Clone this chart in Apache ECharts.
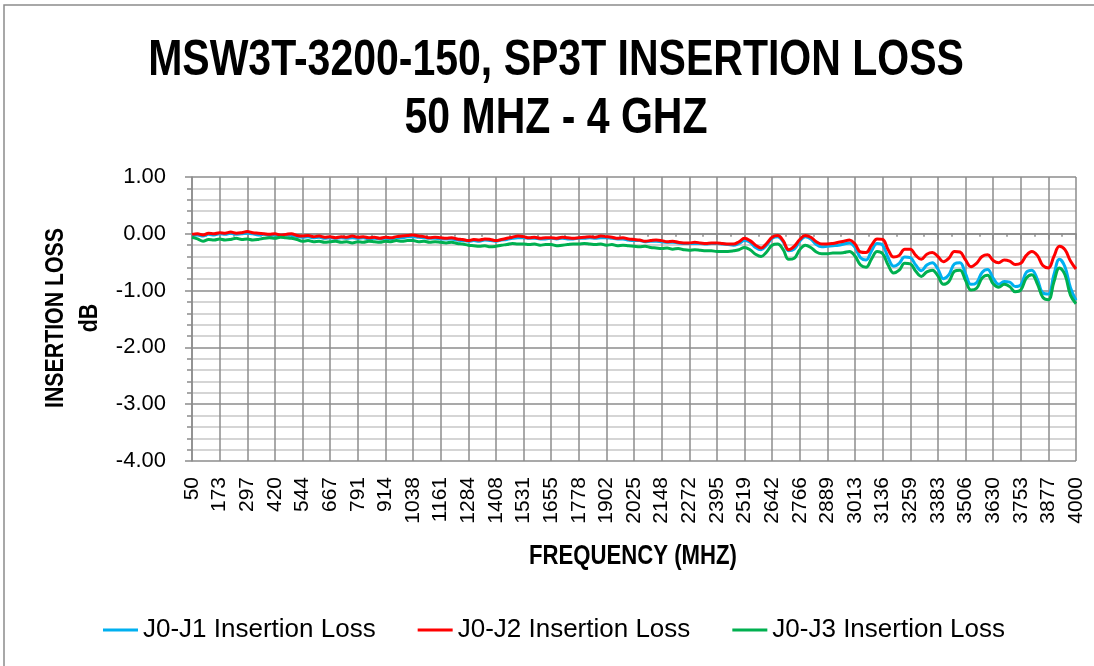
<!DOCTYPE html>
<html>
<head>
<meta charset="utf-8">
<title>MSW3T-3200-150 SP3T Insertion Loss</title>
<script src="https://cdn.jsdelivr.net/npm/echarts@6/dist/echarts.min.js"></script>
<style>
html, body { margin: 0; padding: 0; background: #fff; }
#chart { width: 1094px; height: 666px; }
</style>
</head>
<body>
<div id="chart"></div>
<script>
// 数据：50 MHz 起，每 24.6875 MHz 一个点（共 161 点）
var startMHz = 50;
var stepMHz = 24.6875;
var labelStepMHz = 123.4375;   // 刻度标签间隔 (50, 173, 297 ... 4000)

var seriesNames = ['J0-J1 Insertion Loss', 'J0-J2 Insertion Loss', 'J0-J3 Insertion Loss'];
var seriesColors = ['#00B0F0', '#FF0000', '#00B050'];

var j1Loss = [
    -0.03, -0.02, -0.04, -0.01, -0.02, 0.00, -0.01, 0.01, -0.01, 0.00,
    0.01, 0.00, -0.02, -0.01, -0.03, -0.02, -0.03, -0.02, -0.03, -0.05,
    -0.06, -0.05, -0.07, -0.06, -0.08, -0.07, -0.08, -0.07, -0.08, -0.07,
    -0.08, -0.07, -0.09, -0.08, -0.09, -0.08, -0.09, -0.07, -0.07, -0.05,
    -0.05, -0.06, -0.07, -0.08, -0.08, -0.09, -0.09, -0.09, -0.11, -0.12,
    -0.13, -0.12, -0.13, -0.11, -0.12, -0.13, -0.11, -0.10, -0.08, -0.07,
    -0.07, -0.08, -0.08, -0.09, -0.09, -0.08, -0.09, -0.08, -0.09, -0.09,
    -0.08, -0.08, -0.07, -0.08, -0.07, -0.07, -0.08, -0.09, -0.09, -0.11,
    -0.12, -0.12, -0.14, -0.13, -0.13, -0.14, -0.15, -0.15, -0.16, -0.17,
    -0.17, -0.17, -0.17, -0.18, -0.17, -0.17, -0.18, -0.19, -0.20, -0.17,
    -0.12, -0.15, -0.24, -0.28, -0.20, -0.08, -0.05, -0.14, -0.30, -0.27,
    -0.13, -0.05, -0.09, -0.19, -0.23, -0.22, -0.21, -0.20, -0.18, -0.16,
    -0.24, -0.42, -0.46, -0.30, -0.17, -0.20, -0.42, -0.57, -0.52, -0.41,
    -0.42, -0.55, -0.65, -0.55, -0.51, -0.62, -0.79, -0.72, -0.53, -0.51,
    -0.70, -0.89, -0.86, -0.68, -0.63, -0.78, -0.89, -0.84, -0.85, -0.93,
    -0.90, -0.68, -0.64, -0.80, -1.04, -1.06, -0.72, -0.45, -0.58, -0.95, -1.17
];

var j2Loss = [
    -0.01, 0.00, -0.02, 0.01, 0.00, 0.02, 0.01, 0.03, 0.01, 0.02,
    0.04, 0.02, 0.01, 0.00, -0.01, 0.00, -0.02, -0.01, 0.00, -0.03,
    -0.04, -0.03, -0.05, -0.04, -0.06, -0.05, -0.07, -0.05, -0.06, -0.04,
    -0.06, -0.05, -0.07, -0.06, -0.08, -0.06, -0.07, -0.05, -0.04, -0.03,
    -0.02, -0.04, -0.05, -0.07, -0.06, -0.07, -0.08, -0.07, -0.09, -0.10,
    -0.12, -0.10, -0.11, -0.09, -0.10, -0.12, -0.10, -0.08, -0.06, -0.04,
    -0.05, -0.07, -0.06, -0.08, -0.07, -0.07, -0.08, -0.06, -0.07, -0.08,
    -0.07, -0.06, -0.05, -0.06, -0.04, -0.05, -0.06, -0.08, -0.07, -0.09,
    -0.10, -0.11, -0.13, -0.12, -0.11, -0.12, -0.14, -0.13, -0.15, -0.16,
    -0.16, -0.15, -0.16, -0.17, -0.16, -0.16, -0.17, -0.18, -0.18, -0.14,
    -0.08, -0.12, -0.20, -0.25, -0.17, -0.06, -0.03, -0.12, -0.28, -0.22,
    -0.10, -0.03, -0.06, -0.14, -0.18, -0.18, -0.17, -0.15, -0.13, -0.11,
    -0.18, -0.32, -0.33, -0.20, -0.09, -0.10, -0.28, -0.41, -0.38, -0.27,
    -0.27, -0.38, -0.45, -0.36, -0.33, -0.40, -0.49, -0.43, -0.31, -0.32,
    -0.46, -0.58, -0.52, -0.40, -0.37, -0.47, -0.51, -0.46, -0.48, -0.54,
    -0.52, -0.38, -0.31, -0.38, -0.56, -0.60, -0.40, -0.22, -0.28, -0.48, -0.62
];

var j3Loss = [
    -0.06, -0.09, -0.13, -0.10, -0.11, -0.09, -0.11, -0.10, -0.08, -0.10,
    -0.09, -0.11, -0.10, -0.08, -0.07, -0.08, -0.06, -0.07, -0.08, -0.10,
    -0.13, -0.12, -0.14, -0.13, -0.15, -0.14, -0.13, -0.15, -0.14, -0.16,
    -0.14, -0.15, -0.13, -0.14, -0.15, -0.13, -0.14, -0.12, -0.13, -0.12,
    -0.12, -0.14, -0.13, -0.15, -0.14, -0.15, -0.16, -0.15, -0.17, -0.18,
    -0.20, -0.21, -0.22, -0.21, -0.23, -0.22, -0.20, -0.19, -0.17, -0.18,
    -0.18, -0.19, -0.18, -0.20, -0.19, -0.19, -0.21, -0.20, -0.19, -0.18,
    -0.18, -0.17, -0.18, -0.19, -0.18, -0.20, -0.19, -0.21, -0.20, -0.21,
    -0.22, -0.23, -0.22, -0.24, -0.25, -0.26, -0.25, -0.27, -0.26, -0.28,
    -0.29, -0.28, -0.29, -0.30, -0.30, -0.31, -0.31, -0.31, -0.30, -0.28,
    -0.24, -0.28, -0.36, -0.40, -0.32, -0.20, -0.18, -0.28, -0.45, -0.43,
    -0.28, -0.20, -0.24, -0.32, -0.35, -0.35, -0.34, -0.34, -0.33, -0.31,
    -0.39, -0.55, -0.59, -0.44, -0.31, -0.35, -0.55, -0.69, -0.64, -0.52,
    -0.53, -0.66, -0.75, -0.67, -0.64, -0.74, -0.89, -0.84, -0.66, -0.64,
    -0.82, -0.99, -0.96, -0.78, -0.73, -0.88, -0.94, -0.89, -0.93, -1.02,
    -0.99, -0.78, -0.72, -0.88, -1.12, -1.16, -0.85, -0.60, -0.72, -1.08, -1.23
];

// 横轴以 (频率 - 50) 为值，这样刻度从 0 开始，标签再加回 50
function toPairs(arr) {
    return arr.map(function (v, i) {
        return [i * stepMHz, v];
    });
}

var lossSets = [j1Loss, j2Loss, j3Loss];

// Calibri 风格：Liberation Sans 粗体横向压缩
function boldText(txt, x, y, size, rot) {
    return {
        type: 'text',
        x: x, y: y,
        rotation: rot || 0,
        scaleX: 0.82,
        style: {
            text: txt,
            align: 'center', verticalAlign: 'middle',
            font: 'bold ' + size + 'px "Liberation Sans"',
            fill: '#000'
        },
        silent: true
    };
}

var option = {
    animation: false,
    backgroundColor: '#fff',
    grid: {
        left: 192,
        right: 18,
        top: 177,
        bottom: 205
    },
    legend: {
        left: 98,
        top: 612,
        icon: 'rect',
        itemWidth: 35,
        itemHeight: 3,
        itemGap: 42,
        textStyle: {
            fontFamily: 'Liberation Sans',
            fontSize: 26,
            color: '#000'
        },
        data: seriesNames
    },
    xAxis: {
        type: 'value',
        min: 0,
        max: 3950,
        interval: labelStepMHz,
        axisLine: { lineStyle: { color: '#8c8c8c', width: 1.5 } },
        axisTick: { show: true, length: 6, lineStyle: { color: '#8c8c8c', width: 1.5 } },
        minorTick: { show: true, splitNumber: 2, length: 3, lineStyle: { color: '#8c8c8c', width: 1.5 } },
        axisLabel: {
            rotate: 90,
            margin: 16,
            showMaxLabel: true,
            fontFamily: 'Liberation Sans',
            fontSize: 21,
            color: '#000',
            formatter: function (v) { return String(Math.round(v + startMHz)); }
        },
        splitLine: { show: true, lineStyle: { color: '#8c8c8c', width: 1.5 } }
    },
    yAxis: {
        type: 'value',
        min: -4,
        max: 1,
        interval: 1,
        axisLine: { show: true, lineStyle: { color: '#8c8c8c', width: 1.5 } },
        axisTick: { show: true, length: 7, lineStyle: { color: '#8c8c8c', width: 1.5 } },
        minorTick: { show: true, splitNumber: 5, length: 5, lineStyle: { color: '#8c8c8c', width: 1.5 } },
        axisLabel: {
            margin: 26,
            fontFamily: 'Liberation Sans',
            fontSize: 22,
            color: '#000',
            formatter: function (v) { return v.toFixed(2); }
        },
        splitLine: { show: true, lineStyle: { color: '#8c8c8c', width: 1.5 } },
        minorSplitLine: { show: true, lineStyle: { color: '#c8c8c8', width: 1.5 } }
    },
    graphic: [
        {
            type: 'rect',
            shape: { x: 4, y: 5, width: 1200, height: 800 },
            style: { fill: 'none', stroke: '#8c8c8c', lineWidth: 1.5 },
            silent: true
        },
        boldText('MSW3T-3200-150, SP3T INSERTION LOSS', 556, 61, 50),
        boldText('50 MHZ - 4 GHZ', 556, 119, 50),
        boldText('INSERTION LOSS', 56, 318, 26, Math.PI / 2),
        boldText('dB', 90, 318, 26, Math.PI / 2),
        boldText('FREQUENCY (MHZ)', 633, 557, 27)
    ],
    series: seriesNames.map(function (name, k) {
        return {
            name: name,
            type: 'line',
            showSymbol: false,
            symbol: 'none',
            smooth: 0.4,
            color: seriesColors[k],
            lineStyle: { width: 3, color: seriesColors[k] },
            data: toPairs(lossSets[k])
        };
    })
};

var myChart = echarts.init(document.getElementById('chart'));
myChart.setOption(option);
</script>
</body>
</html>
